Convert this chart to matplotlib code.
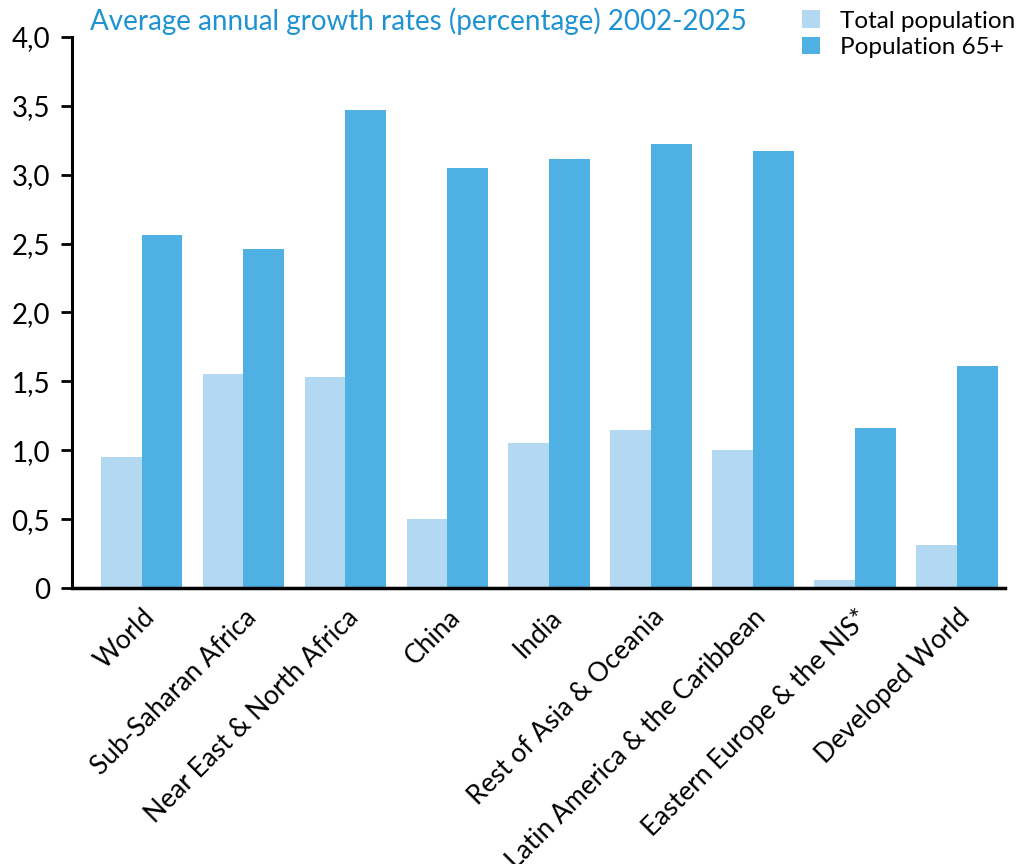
import matplotlib.pyplot as plt
import numpy as np

plt.rcParams['font.family'] = ['Lato', 'DejaVu Sans']

regions = ["World", "Sub-Saharan Africa", "Near East & North Africa", "China", "India",
           "Rest of Asia & Oceania", "Latin America & the Caribbean",
           "Eastern Europe & the NIS*", "Developed World"]
total_pop = [0.95, 1.55, 1.53, 0.50, 1.05, 1.15, 1.00, 0.06, 0.31]
pop_65 = [2.56, 2.46, 3.47, 3.05, 3.11, 3.22, 3.17, 1.16, 1.61]
yticks = [0, 0.5, 1.0, 1.5, 2.0, 2.5, 3.0, 3.5, 4.0]
ylabels = ["0", "0,5", "1,0", "1,5", "2,0", "2,5", "3,0", "3,5", "4,0"]

light = '#b2d9f1'
dark = '#4fb1e3'

fig = plt.figure(figsize=(10.18, 8.64), dpi=100)
ax = fig.add_axes([0.071, 0.3194, 0.916, 0.638])

x = np.arange(len(regions))
w = 0.4
ax.bar(x - w/2, total_pop, w, color=light, label='Total population')
ax.bar(x + w/2, pop_65, w, color=dark, label='Population 65+')

ax.set_ylim(0, 4.0)
ax.set_xlim(-0.68, 8.47)
ax.set_yticks(yticks)
ax.set_yticklabels(ylabels, fontsize=20)
ax.set_xticks(x)
ax.set_xticklabels(regions, rotation=45, ha='right', rotation_mode='anchor', fontsize=19)
ax.tick_params(axis='x', length=0, pad=12)
ax.tick_params(axis='y', length=8, width=2, pad=8)
for s in ['top', 'right']:
    ax.spines[s].set_visible(False)
ax.spines['left'].set_linewidth(2.2)
ax.spines['bottom'].set_linewidth(2.5)

fig.text(0.088, 0.975, "Average annual growth rates (percentage) 2002-2025",
         color='#1f93d2', fontsize=20, va='center', ha='left')

fig.legend(loc='upper left', bbox_to_anchor=(0.788, 0.988), frameon=False, fontsize=17.5,
           handlelength=0.75, handleheight=0.75, handletextpad=0.8, labelspacing=0.2,
           borderpad=0, borderaxespad=0)

fig.savefig('out.png', dpi=100)
